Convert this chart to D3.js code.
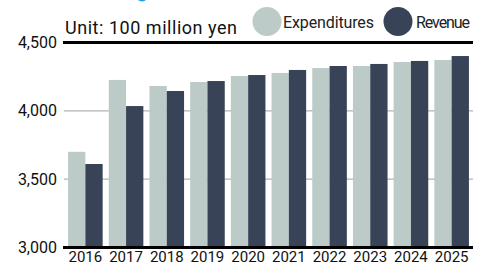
<!DOCTYPE html>
<html><head><meta charset="utf-8">
<script src="https://cdn.jsdelivr.net/npm/d3@7/dist/d3.min.js"></script>
<style>
html,body{margin:0;padding:0;background:#fff;}
svg{display:block;font-family:Roboto,"Noto Sans",sans-serif;}
</style></head><body>
<svg id="chart" width="489" height="266"></svg>
<script>
const years = ["2016","2017","2018","2019","2020","2021","2022","2023","2024","2025"];
const expenditures = [3700,4226,4182,4211,4255,4277,4313,4328,4357,4372];
const revenue = [3611,4035,4145,4218,4262,4299,4328,4343,4365,4401];
const yTicks = [3000,3500,4000,4500];
const seriesNames = ["Expenditures","Revenue"];
const colors = ["#bccbc8","#384358"];

const svg = d3.select("#chart");
const x0 = d3.scaleBand().domain(years).range([64,473]).paddingInner(0.15).paddingOuter(0.1);
const x1 = d3.scaleBand().domain(seriesNames).range([0,x0.bandwidth()]).padding(0);
const y = d3.scaleLinear().domain([3000,4500]).range([247.5,42.5]);

// gridlines
svg.append("g").selectAll("line").data([3500,4000]).join("line")
  .attr("x1",64).attr("x2",473).attr("y1",d=>y(d)).attr("y2",d=>y(d))
  .attr("stroke","#b3b3b3").attr("stroke-width",1.2);

// bars
const data = years.map((yr,i)=>({yr, vals:[expenditures[i],revenue[i]]}));
const g = svg.append("g").selectAll("g").data(data).join("g")
  .attr("transform",d=>`translate(${x0(d.yr)},0)`);
g.selectAll("rect").data(d=>d.vals.map((v,j)=>({v,name:seriesNames[j],j}))).join("rect")
  .attr("x",d=>x1(d.name)).attr("width",x1.bandwidth())
  .attr("y",d=>y(d.v)).attr("height",d=>y(3000)-y(d.v))
  .attr("fill",d=>colors[d.j]);

// top and bottom black lines
svg.append("line").attr("x1",63).attr("x2",473).attr("y1",y(4500)).attr("y2",y(4500)).attr("stroke","#000").attr("stroke-width",3);
svg.append("line").attr("x1",63).attr("x2",473).attr("y1",y(3000)).attr("y2",y(3000)).attr("stroke","#000").attr("stroke-width",3);

// y tick labels
svg.append("g").selectAll("text").data(yTicks).join("text")
  .attr("x",57).attr("y",d=>y(d)+5.5).attr("text-anchor","end")
  .attr("font-size",16).attr("fill","#111").text(d3.format(","));

// x labels
svg.append("g").selectAll("text").data(years).join("text")
  .attr("x",d=>x0(d)+x0.bandwidth()/2).attr("y",261.5).attr("text-anchor","middle")
  .attr("font-size",15).attr("fill","#111").text(d=>d);

// unit
svg.append("text").attr("x",65).attr("y",34).attr("font-size",18).attr("fill","#111")
  .attr("textLength",172).text("Unit: 100 million yen");

// partial blue icon at top
svg.append("ellipse").attr("cx",142).attr("cy",-4).attr("rx",6).attr("ry",5.5).attr("fill","#1aa3e8");

// legend
const legend = [{cx:267,tx:283,w:91},{cx:398,tx:416,w:54}];
legend.forEach((l,i)=>{
  svg.append("circle").attr("cx",l.cx).attr("cy",21.5).attr("r",14.5).attr("fill",colors[i]);
  svg.append("text").attr("x",l.tx).attr("y",28).attr("font-size",16).attr("fill","#222")
    .attr("textLength",l.w).text(seriesNames[i]);
});
</script></body></html>
